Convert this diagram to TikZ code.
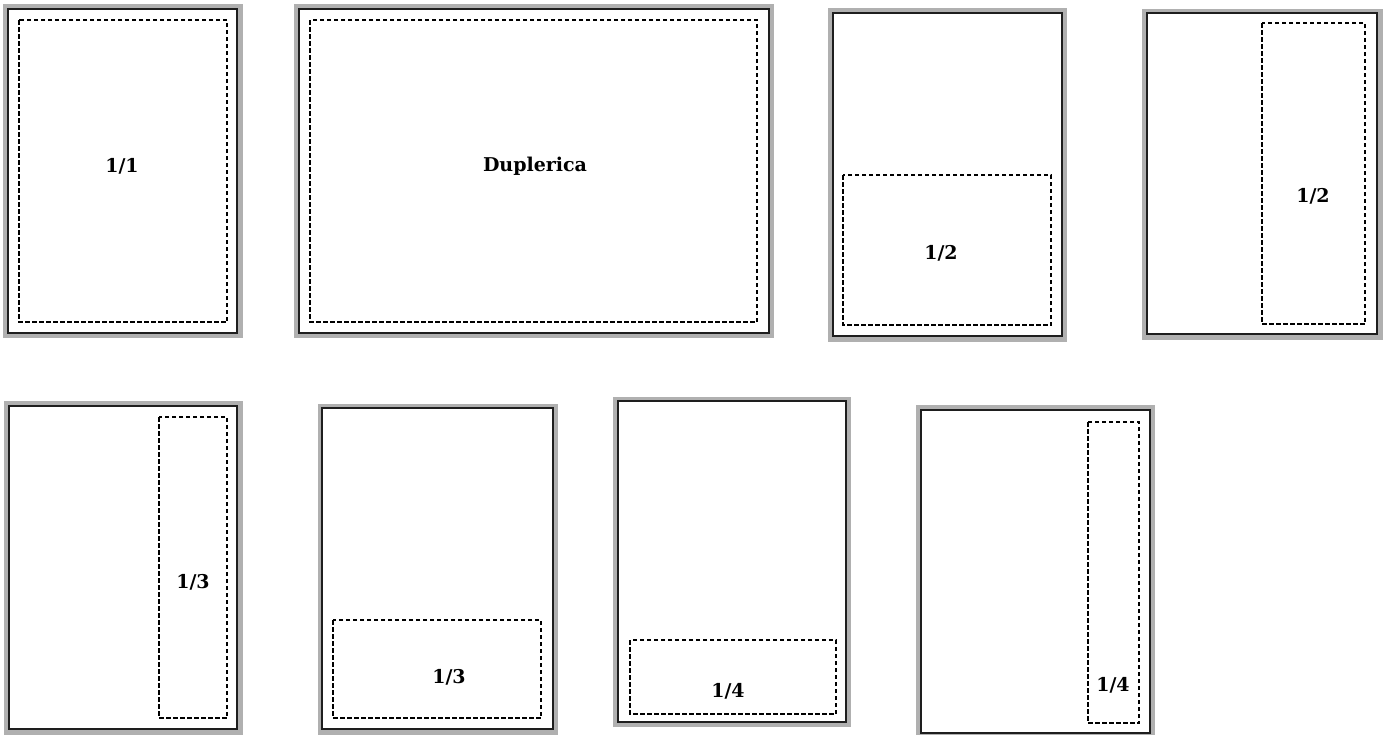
\documentclass[tikz,border=0pt]{standalone}
\usepackage{fontspec}
\setmainfont{DejaVu Serif}
\definecolor{framegray}{RGB}{176,176,176}
\definecolor{edge}{RGB}{30,30,30}
\tikzset{
  grayframe/.style={fill=framegray, draw=none},
  page/.style={fill=white, draw=edge, line width=1.8pt},
  area/.style={draw=black, line width=1.1pt, dash pattern=on 4.5pt off 2.5pt},
  lbl/.style={font=\fontsize{19}{22}\selectfont\bfseries, inner sep=0pt}
}
\begin{document}
\begin{tikzpicture}[x=1pt,y=-1pt]
\useasboundingbox (0,0) rectangle (1384,734);
\clip (0,0) rectangle (1384,734);
% Panel 1
\fill[grayframe] (3,4) rectangle (243,338);
\draw[page] (8,9) rectangle (237,333);
\draw[area] (19,20) rectangle (227,322);
\node[lbl] (l1) at (122,166) {1/1};
% Panel 2
\fill[grayframe] (294,4) rectangle (774,338);
\draw[page] (299,9) rectangle (769,333);
\draw[area] (310,20) rectangle (757,322);
\node[lbl] (l2) at (535,166) {Duplerica};
% Panel 3
\fill[grayframe] (828,8) rectangle (1067,342);
\draw[page] (833,13) rectangle (1062,336);
\draw[area] (843,175) rectangle (1051,325);
\node[lbl] (l3) at (941,253) {1/2};
% Panel 4
\fill[grayframe] (1142,9) rectangle (1383,340);
\draw[page] (1147,13) rectangle (1377,334);
\draw[area] (1262,23) rectangle (1365,324);
\node[lbl] (l4) at (1313,196) {1/2};
% Panel 5
\fill[grayframe] (4,401) rectangle (243,736);
\draw[page] (9,406) rectangle (237,729);
\draw[area] (159,417) rectangle (227,718);
\node[lbl] (l5) at (193,582) {1/3};
% Panel 6
\fill[grayframe] (318,404) rectangle (558,736);
\draw[page] (322,408) rectangle (553,729);
\draw[area] (333,620) rectangle (541,718);
\node[lbl] (l6) at (449,677) {1/3};
% Panel 7
\fill[grayframe] (613,397) rectangle (851,727);
\draw[page] (618,401) rectangle (846,722);
\draw[area] (630,640) rectangle (836,714);
\node[lbl] (l7) at (728,691) {1/4};
% Panel 8
\fill[grayframe] (916,405) rectangle (1155,740);
\draw[page] (921,410) rectangle (1150,733);
\draw[area] (1088,422) rectangle (1139,723);
\node[lbl] (l8) at (1113,685) {1/4};
\end{tikzpicture}
\end{document}
